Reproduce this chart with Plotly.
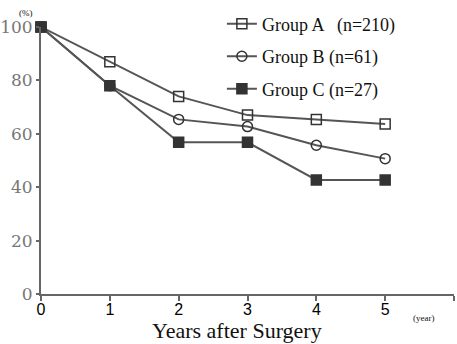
import plotly.graph_objects as go

years = [0, 1, 2, 3, 4, 5]
group_a = [100, 87, 74, 67, 65.4, 63.7]
group_b = [100, 78, 65.4, 62.7, 55.7, 50.7]
group_c = [100, 78, 56.8, 56.8, 42.7, 42.7]
names = ["Group A   (n=210)", "Group B (n=61)", "Group C (n=27)"]
symbols = ["square-open", "circle-open", "square"]
y_ticks = [0, 20, 40, 60, 80, 100]
x_ticks = [0, 1, 2, 3, 4, 5, 6]
x_labels = ["0", "1", "2", "3", "4", "5", ""]

line_col = "#555555"
fig = go.Figure()
for i, (vals, nm, sym) in enumerate(zip([group_a, group_b, group_c], names, symbols)):
    fig.add_trace(go.Scatter(
        x=years, y=vals, name=nm, mode="lines+markers",
        line=dict(color=line_col, width=2),
        marker=dict(symbol=sym, size=10, color="#333333",
                    line=dict(color="#333333", width=1.5)),
        legendgroup=f"g{i}", cliponaxis=False))

fig.update_layout(
    width=457, height=344,
    margin=dict(l=41, r=3, t=27, b=50, autoexpand=False),
    paper_bgcolor="white", plot_bgcolor="white",
    showlegend=True,
    legend=dict(x=0.438, y=1.08, xanchor="left", yanchor="top",
                font=dict(family="Liberation Serif", size=18, color="#111"),
                bgcolor="rgba(0,0,0,0)", traceorder="grouped",
                tracegroupgap=6, itemwidth=30),
    xaxis=dict(range=[0, 6], tickvals=x_ticks, ticktext=x_labels,
               showgrid=False, zeroline=False, showline=True, automargin=False,
               linecolor="#666", linewidth=2, ticks="outside",
               tickcolor="#666", tickwidth=2, ticklen=5, ticklabelstandoff=-5,
               tickfont=dict(family="Liberation Sans", size=16, color="#000")),
    yaxis=dict(range=[0, 100], tickvals=y_ticks,
               showgrid=False, zeroline=False, showline=True, automargin=False,
               linecolor="#666", linewidth=2, ticks="outside",
               tickcolor="#666", tickwidth=2, ticklen=3,
               tickfont=dict(family="DejaVu Serif", size=17, color="#777")),
    annotations=[
        dict(text="Years after Surgery", x=0.475, y=-0.082, xref="paper", yref="paper",
             xanchor="center", yanchor="top", showarrow=False,
             font=dict(family="Liberation Serif", size=22, color="#111")),
        dict(text="(%)", x=-0.015, y=1.025, xref="paper", yref="paper",
             xanchor="right", yanchor="bottom", showarrow=False,
             font=dict(family="Liberation Serif", size=9, color="#111")),
        dict(text="(year)", x=5.55, y=-0.065, xref="x", yref="paper",
             xanchor="center", yanchor="top", showarrow=False,
             font=dict(family="Liberation Serif", size=9, color="#111")),
    ],
)
fig.write_html("out.html", config={"displayModeBar": False},
               post_script="document.body.style.margin='0';document.body.style.overflow='hidden';")
